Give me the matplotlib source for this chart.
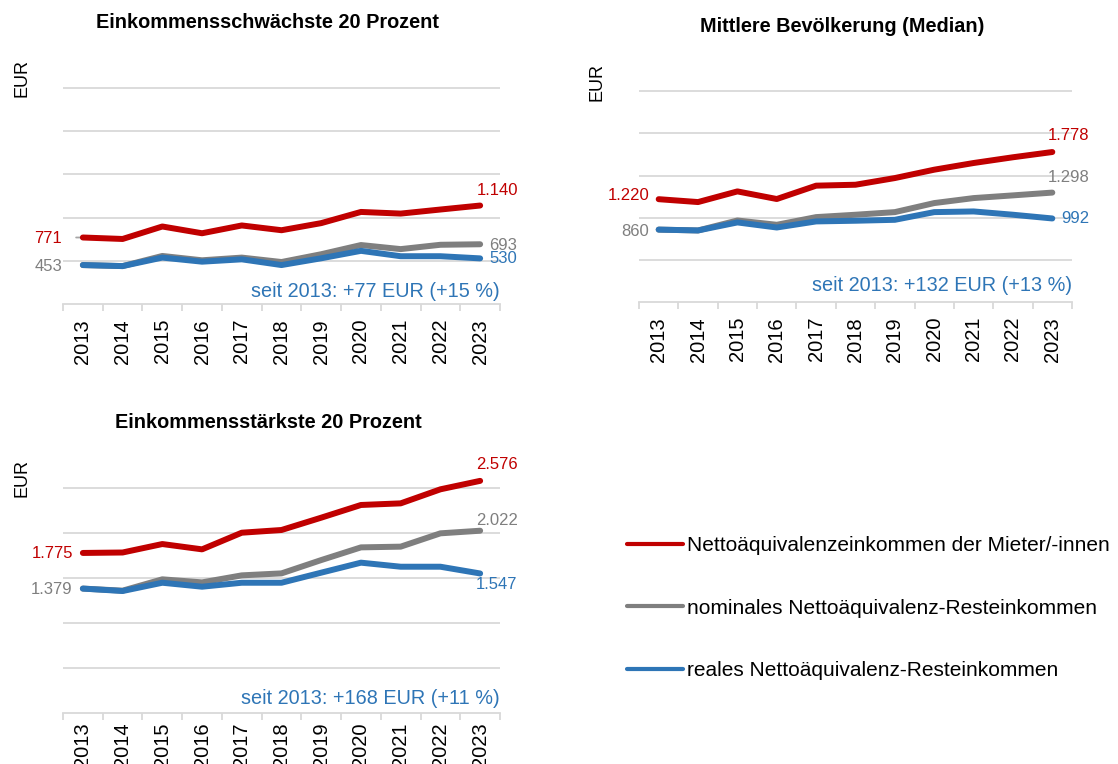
import numpy as np
import matplotlib.pyplot as plt

plt.rcParams['font.family'] = ['Liberation Sans', 'DejaVu Sans']

# Daten (EUR pro Monat)
jahre = [str(j) for j in range(2013, 2024)]

# Einkommensschwächste 20 Prozent
q1_netto = [771, 754, 898, 820, 910, 855, 937, 1066, 1047, 1094, 1140]
q1_nominal = [453, 441, 558, 508, 539, 488, 578, 684, 637, 687, 693]
q1_real = [453, 441, 539, 492, 519, 453, 531, 617, 555, 555, 530]

# Mittlere Bevölkerung (Median)
med_netto = [1220, 1186, 1312, 1222, 1380, 1391, 1470, 1569, 1648, 1716, 1778]
med_nominal = [860, 850, 968, 917, 1008, 1036, 1067, 1174, 1233, 1265, 1298]
med_real = [860, 850, 945, 885, 957, 965, 976, 1067, 1075, 1036, 992]

# Einkommensstärkste 20 Prozent
q5_netto = [1775, 1780, 1874, 1815, 2000, 2030, 2167, 2308, 2326, 2482, 2576]
q5_nominal = [1379, 1356, 1482, 1448, 1526, 1548, 1696, 1837, 1845, 1993, 2022]
q5_real = [1379, 1352, 1444, 1400, 1444, 1444, 1556, 1667, 1622, 1622, 1547]

titel = ['Einkommensschwächste 20 Prozent', 'Mittlere Bevölkerung (Median)',
         'Einkommensstärkste 20 Prozent']
hinweise = ['seit 2013: +77 EUR (+15 %)', 'seit 2013: +132 EUR (+13 %)',
            'seit 2013: +168 EUR (+11 %)']
legende = ['Nettoäquivalenzeinkommen der Mieter/-innen',
           'nominales Nettoäquivalenz-Resteinkommen',
           'reales Nettoäquivalenz-Resteinkommen']

ROT = '#C00000'
GRAU = '#7F7F7F'
BLAU = '#2E75B6'
GRID = '#D9D9D9'

W, H = 1118, 764
fig = plt.figure(figsize=(W / 100, H / 100), dpi=100)


def px_axes(left, right, y0, top):
    return fig.add_axes([left / W, 1 - y0 / H, (right - left) / W, (y0 - top) / H])


def fmt(v):
    return f'{v:,}'.replace(',', '.')


# Panel-Positionen in Pixeln: links, rechts, Nulllinie, 2500er-Linie
panels = [
    (63, 500, 304.3, 87.7),
    (639, 1072, 302.3, 91.0),
    (63, 500, 712.7, 487.7),
]
titel_pos = [(268, 22), (842, 27), (268, 422)]
eur_pos = [(22, 78), (597, 82), (22, 478)]
hinweis_y = [153, 193, 163]
tick_pad = [10.5, 10.5, 7]

# Beschriftungsversatz (Punkte): (dx, dy, ha) für Start rot, Start grau, Ende rot, Ende grau, Ende blau
offsets = [
    [(-15, -0.7, 'right'), (-14.4, -0.9, 'right'), (12.2, 10.8, 'center'), (6.5, -1.2, 'left'), (6.5, -0.4, 'left')],
    [(-6.5, 2.9, 'right'), (-7.2, -1.0, 'right'), (11.5, 12.2, 'center'), (11.5, 11.2, 'center'), (6.5, 0, 'left')],
    [(-7.2, -0.7, 'right'), (-7.2, -1.0, 'right'), (11.9, 11.5, 'center'), (11.9, 7.2, 'center'), (11.9, -8.3, 'center')],
]

daten = [(q1_netto, q1_nominal, q1_real),
         (med_netto, med_nominal, med_real),
         (q5_netto, q5_nominal, q5_real)]

ymax = 2700
x = np.arange(len(jahre))
handles = None

for i, (netto, nominal, real) in enumerate(daten):
    l, r, y0, y25 = panels[i]
    top = y0 - ymax * (y0 - y25) / 2500
    ax = px_axes(l, r, y0, top)

    h1, = ax.plot(x, netto, color=ROT, lw=4.3, solid_capstyle='round', clip_on=False, zorder=3)
    h2, = ax.plot(x, nominal, color=GRAU, lw=4.3, solid_capstyle='round', clip_on=False, zorder=3)
    h3, = ax.plot(x, real, color=BLAU, lw=4.3, solid_capstyle='round', clip_on=False, zorder=3)
    handles = [h1, h2, h3]

    ax.set_xlim(-0.5, len(jahre) - 0.5)
    ax.set_ylim(0, ymax)
    ax.set_yticks([500, 1000, 1500, 2000, 2500])
    ax.yaxis.grid(True, color=GRID, lw=1.3)
    ax.set_axisbelow(True)
    ax.tick_params(axis='y', left=False, labelleft=False)

    ax.set_xticks(x)
    ax.set_xticklabels(jahre, rotation=90, fontsize=14.5)
    ax.set_xticks(np.arange(-0.5, len(jahre)), minor=True)
    ax.tick_params(axis='x', which='major', length=0, pad=tick_pad[i], colors='black')
    ax.tick_params(axis='x', which='minor', length=5, width=1.3, color=GRID)
    for s in ['left', 'right', 'top']:
        ax.spines[s].set_visible(False)
    ax.spines['bottom'].set_color(GRID)
    ax.spines['bottom'].set_linewidth(1.3)

    # Datenbeschriftungen
    punkte = [(0, netto[0], ROT), (0, nominal[0], GRAU),
              (10, netto[-1], ROT), (10, nominal[-1], GRAU), (10, real[-1], BLAU)]
    for (xi, v, c), (dx, dy, ha) in zip(punkte, offsets[i]):
        ax.annotate(fmt(v), xy=(xi, v), xytext=(dx, dy), textcoords='offset points',
                    ha=ha, va='center', fontsize=12, color=c)

    if i == 0:
        ax.annotate('', xy=(0.1, netto[0]), xytext=(-0.17, netto[0]),
                    arrowprops=dict(arrowstyle='-', color='#A6A6A6', lw=1.3,
                                    shrinkA=0, shrinkB=0), zorder=2)

    ax.text(1.0, hinweis_y[i], hinweise[i], transform=ax.get_yaxis_transform(),
            ha='right', va='center', fontsize=14.3, color=BLAU)

    tx, ty = titel_pos[i]
    fig.text(tx / W, 1 - ty / H, titel[i], ha='center', va='center',
             fontsize=14.3, fontweight='bold')
    ex, ey = eur_pos[i]
    fig.text(ex / W, 1 - ey / H, 'EUR', rotation=90, ha='center', va='center', fontsize=13)

leg = fig.legend(handles, legende, loc='upper left', bbox_to_anchor=(627 / W, 1 - 536 / H),
                 frameon=False, fontsize=15, handlelength=2.7, handletextpad=0.2,
                 labelspacing=2.1, borderaxespad=0, borderpad=0)
for h in leg.legend_handles:
    h.set_linewidth(3)

fig.savefig('out.png', dpi=100)
